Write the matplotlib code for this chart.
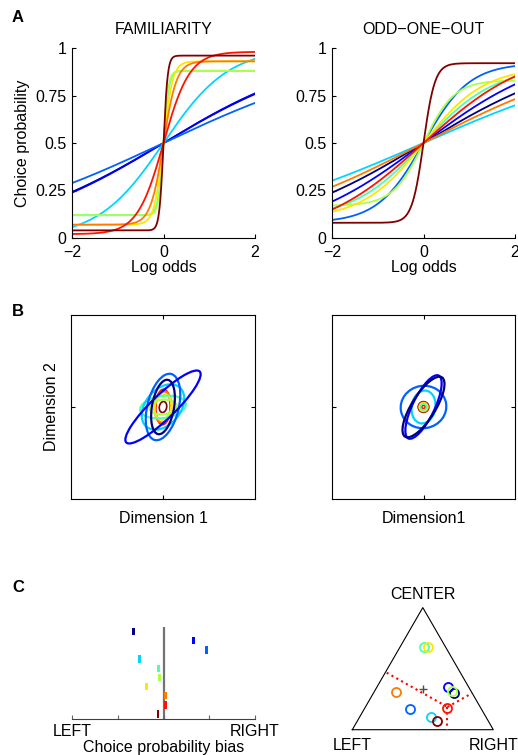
import numpy as np
import matplotlib
matplotlib.use("Agg")
import matplotlib.pyplot as plt
from matplotlib.patches import Ellipse

plt.rcParams['font.family'] = ['Liberation Sans', 'DejaVu Sans']
plt.rcParams['font.size'] = 11.5

# ten conditions, coloured along the jet map (0 = dark blue ... 9 = dark red)
colors = plt.cm.jet(np.linspace(0, 1, 10))

# panel A: psychometric fits, p = lapse + (1 - 2*lapse) / (1 + exp(-slope*x))
fam_lapse = [0.0, 0.0, 0.0, 0.0, 0.12, 0.12, 0.07, 0.07, 0.02, 0.04]
fam_slope = [0.57, 0.58, 0.45, 1.4, 17.0, 19.0, 10.0, 7.0, 3.5, 22.0]
odd_lapse = [0.0, 0.0, 0.08, 0.0, 0.10, 0.17, 0.10, 0.0, 0.0, 0.08]
odd_slope = [0.58, 0.72, 2.0, 0.42, 1.3, 3.0, 1.5, 0.5, 0.87, 8.0]

# panel B: covariance ellipses (semi-major, semi-minor, angle in degrees)
famB_a = [0.30, 0.555, 0.37, 0.28, 0.25, 0.15, 0.14, 0.17, 0.19, 0.06]
famB_b = [0.12, 0.13, 0.17, 0.19, 0.12, 0.08, 0.09, 0.09, 0.08, 0.04]
famB_ang = [80, 44, 76, 50, 8, 5, 80, 85, 88, 80]
oddB_a = [0.38, 0.38, 0.25, 0.18, 0.032, 0.038, 0.045, 0.05, 0.018, 0.058]
oddB_b = [0.13, 0.12, 0.23, 0.13, 0.032, 0.038, 0.045, 0.05, 0.018, 0.058]
oddB_ang = [58, 64, 10, 80, 0, 0, 0, 0, 0, 0]

# panel C left: choice probability bias per condition
bias = [-0.33, 0.33, 0.47, -0.26, -0.05, -0.045, -0.19, 0.02, 0.02, -0.06]
bias_row = [10, 9, 8, 7, 6, 5, 4, 3, 2, 1]

# panel C right: odd-one-out choices in triangle coordinates
tri_x = [0.721, 0.676, 0.407, 0.558, 0.510, 0.705, 0.539, 0.308, 0.674, 0.598]
tri_y = [0.262, 0.301, 0.147, 0.092, 0.589, 0.277, 0.589, 0.266, 0.152, 0.062]
bound_x = [[0.244, 0.675], [0.675, 0.847], [0.675, 0.675]]
bound_y = [[0.404, 0.161], [0.161, 0.258], [0.161, 0.0]]

W, H = 518, 755
fig = plt.figure(figsize=(W / 100, H / 100), dpi=100)


def box(x0, y0, x1, y1):
    return [x0 / W, 1 - y1 / H, (x1 - x0) / W, (y1 - y0) / H]


# ---- A ----
xs = np.linspace(-2, 2, 801)
for (x0, x1), title, lapse, slope, ylab in [
        ((72, 255), 'FAMILIARITY', fam_lapse, fam_slope, True),
        ((332, 515), 'ODD\u2212ONE\u2212OUT', odd_lapse, odd_slope, False)]:
    ax = fig.add_axes(box(x0, 48, x1, 238))
    for i in range(10):
        p = lapse[i] + (1 - 2 * lapse[i]) / (1 + np.exp(-slope[i] * xs))
        ax.plot(xs, p, color=colors[i], lw=1.3)
    ax.set_xlim(-2, 2)
    ax.set_ylim(0, 1)
    ax.set_xticks([-2, 0, 2])
    ax.set_yticks([0, 0.25, 0.5, 0.75, 1])
    ax.set_yticklabels(['0', '0.25', '0.5', '0.75', '1'])
    for s in ['top', 'right']:
        ax.spines[s].set_visible(False)
    ax.tick_params(direction='in', length=3, width=0.8)
    ax.tick_params(axis='x', pad=5)
    ax.tick_params(axis='y', pad=4)
    ax.set_title(title, fontsize=11.5, pad=10)
    ax.set_xlabel('Log odds', labelpad=0)
    if ylab:
        ax.set_ylabel('Choice probability', labelpad=4)

# ---- B ----
for (x0, x1), a, b, ang, xlab, ylab in [
        ((71, 255), famB_a, famB_b, famB_ang, 'Dimension 1', 'Dimension 2'),
        ((332, 515), oddB_a, oddB_b, oddB_ang, 'Dimension1', None)]:
    ax = fig.add_axes(box(x0, 315, x1, 499))
    for i in range(9, -1, -1):
        lw = 1.6 if a[i] > 0.1 else 1.2
        ax.add_patch(Ellipse((0, 0), 2 * a[i], 2 * b[i], angle=ang[i],
                             fill=False, ec=colors[i], lw=lw))
    ax.set_xlim(-1, 1)
    ax.set_ylim(-1, 1)
    ax.set_xticks([0])
    ax.set_yticks([0])
    ax.set_xticklabels([])
    ax.set_yticklabels([])
    ax.tick_params(direction='in', length=3, top=True, right=True)
    ax.set_xlabel(xlab, labelpad=5)
    if ylab:
        ax.set_ylabel(ylab, labelpad=5)

# ---- C left ----
ax = fig.add_axes(box(72, 627, 255, 718.7))
ax.axvline(0, color='0.45', lw=1.6, zorder=1)
ax.bar(bias, 0.8, width=0.032, bottom=np.array(bias_row) - 0.4,
       color=colors, zorder=2)
ax.set_xlim(-1, 1)
ax.set_ylim(0.5, 10.5)
ax.set_yticks([])
ax.set_xticks([-1, -0.5, 0, 0.5, 1])
ax.set_xticklabels(['LEFT', '', '', '', 'RIGHT'])
for s in ['top', 'right', 'left']:
    ax.spines[s].set_visible(False)
ax.spines['bottom'].set_color('0.25')
ax.tick_params(direction='in', length=3, color='0.4')
ax.set_xlabel('Choice probability bias', labelpad=1)

# ---- C right ----
ax = fig.add_axes(box(352.3, 607.6, 493.3, 729.7))
ax.set_xlim(0, 1)
ax.set_ylim(0, 0.866)
ax.axis('off')
ax.plot([0, 1, 0.5, 0], [0, 0, 0.866, 0], color='k', lw=0.8, clip_on=False)
for bx, by in zip(bound_x, bound_y):
    ax.plot(bx, by, color='red', ls=':', lw=1.5, clip_on=False)
ax.plot(0.5, 0.289, marker='+', color='0.3', ms=6, mew=1, clip_on=False)
for i in range(10):
    ax.plot(tri_x[i], tri_y[i], 'o', mfc='none', mec=colors[i], ms=6.5,
            mew=1.3, clip_on=False)
ax.text(0.5, 0.958, 'CENTER', ha='center', va='center')
ax.text(0.0, -0.113, 'LEFT', ha='center', va='center')
ax.text(1.0, -0.113, 'RIGHT', ha='center', va='center')

# panel letters
for lab, y in [('A', 18), ('B', 312), ('C', 588)]:
    fig.text(12 / W, 1 - y / H, lab, fontweight='bold', fontsize=12,
             va='center')

fig.savefig('out.png', dpi=100)
